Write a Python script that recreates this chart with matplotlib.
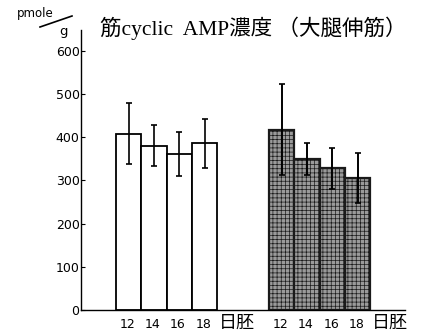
import matplotlib
matplotlib.use("Agg")
import matplotlib.pyplot as plt
import numpy as np

plt.rcParams['font.family'] = ['DejaVu Sans', 'Noto Sans CJK JP']
plt.rcParams['hatch.linewidth'] = 0.5

days = ["12", "14", "16", "18"]
group1_mean = [408, 380, 362, 386]
group1_err = [71, 47, 51, 57]
group2_mean = [417, 349, 328, 306]
group2_err = [105, 37, 48, 58]
yticks = [0, 100, 200, 300, 400, 500, 600]
title = "筋cyclic  AMP濃度 （大腿伸筋）"
unit_top = "pmole"
unit_bottom = "g"
suffix = "日胚"

pos1 = np.arange(4)
pos2 = np.arange(4) + 6.05

fig = plt.figure(figsize=(4.21, 3.32), dpi=100)
ax = fig.add_axes([81/421, 22/332, (405-81)/421, 280/332])

ax.bar(pos1, group1_mean, width=1.0, facecolor='white', edgecolor='black', linewidth=1.3, zorder=2)
ax.errorbar(pos1, group1_mean, yerr=group1_err, fmt='none', ecolor='black', elinewidth=1.2, capsize=2.5, capthick=1.2, zorder=3)

ax.bar(pos2, group2_mean, width=1.0, facecolor='#9a9a9a', edgecolor='#1a1a1a', linewidth=1.6, hatch='++++', zorder=2)
ax.errorbar(pos2, group2_mean, yerr=group2_err, fmt='none', ecolor='black', elinewidth=1.4, capsize=2.5, capthick=1.2, zorder=3)

ax.set_xlim(-1.885, 10.92)
ax.set_ylim(0, 648)
ax.spines['top'].set_visible(False)
ax.spines['right'].set_visible(False)
ax.spines['left'].set_linewidth(1.0)
ax.spines['bottom'].set_linewidth(1.0)
ax.set_yticks(yticks)
ax.set_yticklabels([str(v) for v in yticks], fontsize=9)
ax.tick_params(axis='y', direction='in', length=3, width=0.8, pad=1)
ax.set_xticks([])

for p, d in zip(list(pos1) + list(pos2), days + days):
    ax.text(p - 0.05, -18, d, ha='center', va='top', fontsize=9)
ax.text(3.55, -10, suffix, ha='left', va='top', fontsize=13, family=['Noto Sans CJK JP'])
ax.text(9.6, -10, suffix, ha='left', va='top', fontsize=13, family=['Noto Sans CJK JP'])

fig.text(100/421, 1 - 28/332, title, ha='left', va='center', fontsize=15.5,
         family=['Liberation Serif', 'Noto Sans CJK JP'])
fig.text(35/421, 1 - 14/332, unit_top, ha='center', va='center', fontsize=8.5)
fig.text(63/421, 1 - 31/332, unit_bottom, ha='center', va='center', fontsize=9.5)
fig.add_artist(plt.Line2D([40/421, 72/421], [1 - 27/332, 1 - 16/332], color='black', lw=1.2))

fig.savefig("out.png", dpi=100, facecolor='white')
